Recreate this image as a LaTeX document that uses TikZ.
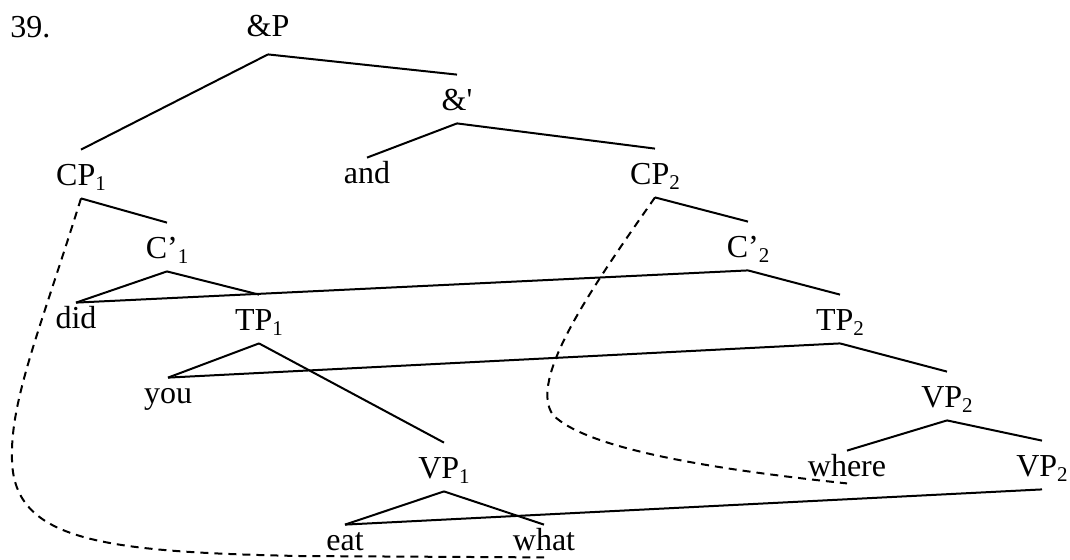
\documentclass[tikz,border=0pt]{standalone}
\usepackage{fontspec}
\setmainfont{Liberation Serif}
\usetikzlibrary{positioning}
\newcommand{\idx}[1]{\raisebox{-2.5pt}{\fontsize{10.5}{10}\selectfont #1}}
\tikzset{
  cat/.style={inner sep=0pt, anchor=base, text height=17.5pt, text depth=6.5pt, font=\fontsize{16}{18}\selectfont},
  word/.style={cat, text height=12.5pt, text depth=3.5pt},
  branch/.style={line width=1pt},
  chain/.style={line width=1pt, dash pattern=on 4pt off 3pt}
}

\begin{document}
\begin{tikzpicture}[x=0.5pt, y=-0.5pt]
  \useasboundingbox (0,0) rectangle (1070,559);
  % Labels
  \node[cat, anchor=base west] (num) at (10,37) {39.};
  \node[cat, text depth=9pt] (andp) at (268,36) {\&P};
  \node[cat] (andbar) at (457,110) {\&\textquotesingle};
  \node[word] (and) at (367,183) {and};
  \node[cat] (cp1) at (81,185) {CP\idx{1}};
  \node[cat] (cp2) at (655,184) {CP\idx{2}};
  \node[cat] (c1) at (167,258) {C'\idx{1}};
  \node[cat] (c2) at (748,257) {C'\idx{2}};
  \node[word] (did) at (76,328) {did};
  \node[cat] (tp1) at (259,330) {TP\idx{1}};
  \node[cat] (tp2) at (840,330) {TP\idx{2}};
  \node[word] (you) at (168,403) {you};
  \node[cat] (vp2a) at (947,407) {VP\idx{2}};
  \node[cat] (vp1) at (444,478) {VP\idx{1}};
  \node[word] (where) at (847,476) {where};
  \node[cat] (vp2b) at (1042,476) {VP\idx{2}};
  \node[word] (eat) at (345,550) {eat};
  \node[word] (what) at (544,550) {what};
  \coordinate (turn1) at (12,460);
  \coordinate (flat1) at (300,556);
  \coordinate (turn2) at (553,415);

  % Branches
  \draw[branch] (andp.south) -- (cp1.north);
  \draw[branch] (andp.south) -- (andbar.north);
  \draw[branch] (andbar.south) -- (and.north);
  \draw[branch] (andbar.south) -- (cp2.north);
  \draw[branch] (cp1.south) -- (c1.north);
  \draw[branch] (cp2.south) -- (c2.north);
  \draw[branch] (c1.south) -- (did.north);
  \draw[branch] (c1.south) -- (tp1.north);
  \draw[branch] (c2.south) -- (did.north);
  \draw[branch] (c2.south) -- (tp2.north);
  \draw[branch] (tp1.south) -- (you.north);
  \draw[branch] (tp1.south) -- (vp1.north);
  \draw[branch] (tp2.south) -- (you.north);
  \draw[branch] (tp2.south) -- (vp2a.north);
  \draw[branch] (vp2a.south) -- (where.north);
  \draw[branch] (vp2a.south) -- (vp2b.north);
  \draw[branch] (vp1.south) -- (eat.north);
  \draw[branch] (vp1.south) -- (what.north);
  \draw[branch] (vp2b.south) -- (eat.north);

  % Chains
  \draw[chain] (cp1.south) .. controls (40,330) and (10,400) .. (turn1)
    .. controls (14,540) and (100,552) .. (flat1) -- (what.south);
  \draw[chain] (cp2.south) .. controls (590,290) and (528,380) .. (turn2)
    .. controls (588,450) and (720,470) .. (where.south);
\end{tikzpicture}
\end{document}
